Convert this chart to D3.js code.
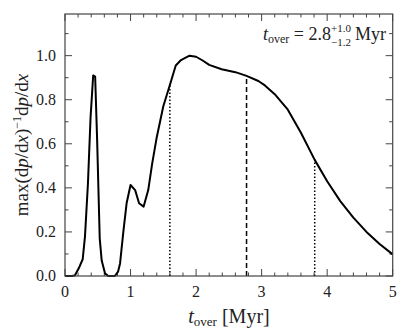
<!DOCTYPE html>
<html>
<head>
<meta charset="utf-8">
<script src="https://cdn.jsdelivr.net/npm/d3@7"></script>
<style>
  body { margin: 0; background: #fff; }
  text { font-family: "Liberation Serif", "DejaVu Serif", serif; fill: #222; }
</style>
</head>
<body>
<svg id="chart" width="407" height="334"></svg>
<script>
// curve
const tOver = [0, 0.1, 0.15, 0.21, 0.27, 0.305, 0.35, 0.39, 0.43, 0.46, 0.49, 0.53, 0.56, 0.61, 0.66,
               0.76, 0.81, 0.84, 0.89, 0.94, 1.0, 1.07, 1.13, 1.2, 1.27, 1.33, 1.4, 1.5, 1.6, 1.69, 1.77,
               1.9, 2.0, 2.1, 2.2, 2.39, 2.6, 2.77, 2.95, 3.05, 3.2, 3.4, 3.6, 3.81, 4.0, 4.2,
               4.4, 4.6, 4.8, 5.0];
const prob  = [0, 0, 0.002, 0.035, 0.076, 0.18, 0.42, 0.72, 0.91, 0.905, 0.62, 0.17, 0.07, 0.012, 0.0,
               0.0, 0.02, 0.057, 0.2, 0.33, 0.413, 0.39, 0.33, 0.315, 0.39, 0.51, 0.63, 0.77, 0.867, 0.955, 0.98,
               1.0, 0.995, 0.978, 0.958, 0.938, 0.925, 0.908, 0.885, 0.865, 0.825, 0.755, 0.65, 0.527, 0.43, 0.34,
               0.265, 0.2, 0.145, 0.098];

// median and 1-sigma bounds
const markT = [1.6, 2.77, 3.81];
const markV = [0.867, 0.908, 0.527];
const markDash = ["1.5,2", "5,3", "1.5,2"];

const xMajor = [0, 1, 2, 3, 4, 5];
const yMajor = [0.0, 0.2, 0.4, 0.6, 0.8, 1.0];

const svg = d3.select("#chart");
const pLeft = 65, pRight = 392.7, pTop = 14, pBottom = 276;

const x = d3.scaleLinear().domain([0, 5]).range([pLeft, pRight]);
const y = d3.scaleLinear().domain([0, 1.189]).range([pBottom, pTop]);

const frame = "#444";

// ticks (inward, all sides)
const xMinor = d3.range(0, 5.001, 0.2).filter(v => Math.abs(v - Math.round(v)) > 1e-6);
const yMinor = d3.range(0.1, 1.19, 0.2);

function xTicks(vals, len) {
  svg.append("g").selectAll("line").data(vals).join("line")
    .attr("x1", d => x(d)).attr("x2", d => x(d))
    .attr("y1", pBottom).attr("y2", pBottom - len)
    .attr("stroke", frame).attr("stroke-width", 1);
  svg.append("g").selectAll("line").data(vals).join("line")
    .attr("x1", d => x(d)).attr("x2", d => x(d))
    .attr("y1", pTop).attr("y2", pTop + len)
    .attr("stroke", frame).attr("stroke-width", 1);
}
function yTicks(vals, len) {
  svg.append("g").selectAll("line").data(vals).join("line")
    .attr("x1", pLeft).attr("x2", pLeft + len)
    .attr("y1", d => y(d)).attr("y2", d => y(d))
    .attr("stroke", frame).attr("stroke-width", 1);
  svg.append("g").selectAll("line").data(vals).join("line")
    .attr("x1", pRight).attr("x2", pRight - len)
    .attr("y1", d => y(d)).attr("y2", d => y(d))
    .attr("stroke", frame).attr("stroke-width", 1);
}
xTicks(xMajor, 7);
xTicks(xMinor, 3.5);
yTicks(yMajor, 7);
yTicks(yMinor, 3.5);

// marker lines
svg.append("g").selectAll("line").data(markT).join("line")
  .attr("x1", d => x(d)).attr("x2", d => x(d))
  .attr("y1", y(0)).attr("y2", (d, i) => y(markV[i]))
  .attr("stroke", "#000").attr("stroke-width", 1.5)
  .attr("stroke-dasharray", (d, i) => markDash[i]);

// curve
const line = d3.line().x((d, i) => x(tOver[i])).y(d => y(d));
svg.append("path")
  .attr("d", line(prob))
  .attr("fill", "none")
  .attr("stroke", "#000")
  .attr("stroke-width", 2)
  .attr("stroke-linejoin", "round");

// frame
svg.append("rect")
  .attr("x", pLeft).attr("y", pTop)
  .attr("width", pRight - pLeft).attr("height", pBottom - pTop)
  .attr("fill", "none").attr("stroke", frame).attr("stroke-width", 1.2);

// tick labels
svg.append("g").selectAll("text").data(xMajor).join("text")
  .attr("x", d => x(d)).attr("y", 297)
  .attr("text-anchor", "middle")
  .attr("font-size", "16px")
  .text(d => d);
svg.append("g").selectAll("text").data(yMajor).join("text")
  .attr("x", 56).attr("y", d => y(d) + 5)
  .attr("text-anchor", "end")
  .attr("font-size", "16px")
  .text(d => d.toFixed(1));

// x label
const xl = svg.append("text")
  .attr("x", 229).attr("y", 323)
  .attr("text-anchor", "middle")
  .attr("font-size", "20px");
xl.append("tspan").attr("font-style", "italic").text("t");
xl.append("tspan").attr("font-size", "13px").attr("dy", 3).text("over");
xl.append("tspan").attr("dy", -3).text(" [Myr]");

// y label
const yl = svg.append("text")
  .attr("transform", "translate(28,145) rotate(-90)")
  .attr("text-anchor", "middle")
  .attr("font-size", "19px");
yl.append("tspan").text("max(d");
yl.append("tspan").attr("font-style", "italic").text("p");
yl.append("tspan").text("/d");
yl.append("tspan").attr("font-style", "italic").text("x");
yl.append("tspan").text(")");
yl.append("tspan").attr("font-size", "12px").attr("dy", -7).text("−1");
yl.append("tspan").attr("dy", 7).text("d");
yl.append("tspan").attr("font-style", "italic").text("p");
yl.append("tspan").text("/d");
yl.append("tspan").attr("font-style", "italic").text("x");

// annotation: main part, stacked error bounds, unit
const annY = 40;
const unit = svg.append("text")
  .attr("x", 386).attr("y", annY)
  .attr("text-anchor", "end")
  .attr("font-size", "18px")
  .text("Myr");
const unitW = unit.node().getComputedTextLength();
const errX = 386 - unitW - 24;
svg.append("text")
  .attr("x", errX).attr("y", annY - 8)
  .attr("font-size", "11px")
  .text("+1.0");
svg.append("text")
  .attr("x", errX).attr("y", annY + 6)
  .attr("font-size", "11px")
  .text("−1.2");
const ann = svg.append("text")
  .attr("x", errX).attr("y", annY)
  .attr("text-anchor", "end")
  .attr("font-size", "18px");
ann.append("tspan").attr("font-style", "italic").text("t");
ann.append("tspan").attr("font-size", "12px").attr("dy", 3).text("over");
ann.append("tspan").attr("dy", -3).text(" = 2.8");
</script>
</body>
</html>
